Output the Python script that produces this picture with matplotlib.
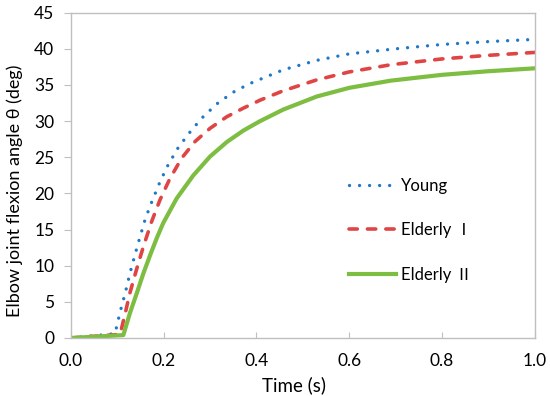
import matplotlib
matplotlib.use("Agg")
import matplotlib.pyplot as plt

plt.rcParams['font.family'] = ['Lato', 'Noto Sans CJK JP', 'DejaVu Sans']

young_t = [0, 0.095, 0.106, 0.117, 0.127, 0.138, 0.149, 0.160, 0.171, 0.192, 0.210, 0.232, 0.257, 0.282, 0.315, 0.35, 0.386, 0.458, 0.53, 0.6, 0.7, 0.8, 0.9, 1.0]
young_v = [0, 0.6, 3.6, 6.2, 8.9, 11.5, 14.0, 16.4, 18.3, 21.6, 24.0, 26.4, 28.5, 30.4, 32.4, 34.0, 35.2, 37.1, 38.4, 39.3, 40.0, 40.6, 41.0, 41.3]

eld1_t = [0, 0.106, 0.117, 0.127, 0.142, 0.156, 0.174, 0.192, 0.213, 0.239, 0.268, 0.300, 0.336, 0.372, 0.408, 0.458, 0.53, 0.6, 0.69, 0.8, 0.9, 1.0]
eld1_v = [0, 0.5, 3.4, 6.2, 9.6, 12.6, 16.1, 19.1, 22.0, 24.9, 27.2, 29.0, 30.6, 31.8, 32.9, 34.2, 35.7, 36.8, 37.8, 38.6, 39.1, 39.5]

eld2_t = [0, 0.113, 0.127, 0.142, 0.156, 0.171, 0.185, 0.199, 0.228, 0.264, 0.300, 0.336, 0.372, 0.408, 0.458, 0.53, 0.6, 0.69, 0.8, 0.9, 1.0]
eld2_v = [0, 0.4, 3.4, 6.2, 8.9, 11.5, 13.8, 15.9, 19.3, 22.5, 25.1, 27.1, 28.7, 30.0, 31.6, 33.4, 34.6, 35.6, 36.4, 36.9, 37.3]

labels = ['Young', 'Elderly Ⅰ', 'Elderly Ⅱ']
xticks = [0.0, 0.2, 0.4, 0.6, 0.8, 1.0]
yticks = list(range(0, 50, 5))

fig = plt.figure(figsize=(5.5, 3.96), dpi=100)
ax = fig.add_axes([0.129, 0.1465, 0.843, 0.8215])

ax.plot(young_t, young_v, color='#1F78C8', lw=2.4, linestyle=(0, (0.01, 3.0)),
        dash_capstyle='round', label=labels[0])
ax.plot(eld1_t, eld1_v, color='#E04545', lw=2.6, linestyle=(0, (2.3, 2.8)),
        dash_capstyle='round', label=labels[1])
ax.plot(eld2_t, eld2_v, color='#7DBD42', lw=3.0, linestyle='-', label=labels[2])

ax.set_xlim(0, 1.0)
ax.set_ylim(0, 45)
ax.set_xticks(xticks)
ax.set_xticklabels([f"{v:.1f}" for v in xticks])
ax.set_yticks(yticks)
for s in ax.spines.values():
    s.set_color('#BFBFBF')
    s.set_linewidth(1.0)
ax.tick_params(axis='x', direction='in', length=4, color='#BFBFBF', labelsize=12.5, pad=11)
ax.tick_params(axis='y', direction='out', length=5, color='#BFBFBF', labelsize=12.5, pad=7)
ax.set_xlabel('Time (s)', fontsize=13.5)
ax.set_ylabel('Elbow joint flexion angle θ (deg)', fontsize=13)
ax.xaxis.set_label_coords(0.481, -0.117)
ax.yaxis.set_label_coords(-0.1036, 0.452)

leg = ax.legend(loc='upper left', bbox_to_anchor=(0.568, 0.538), frameon=False,
                fontsize=12, labelspacing=1.7, handlelength=2.8, handletextpad=0.3)

fig.savefig('out.png', dpi=100)
